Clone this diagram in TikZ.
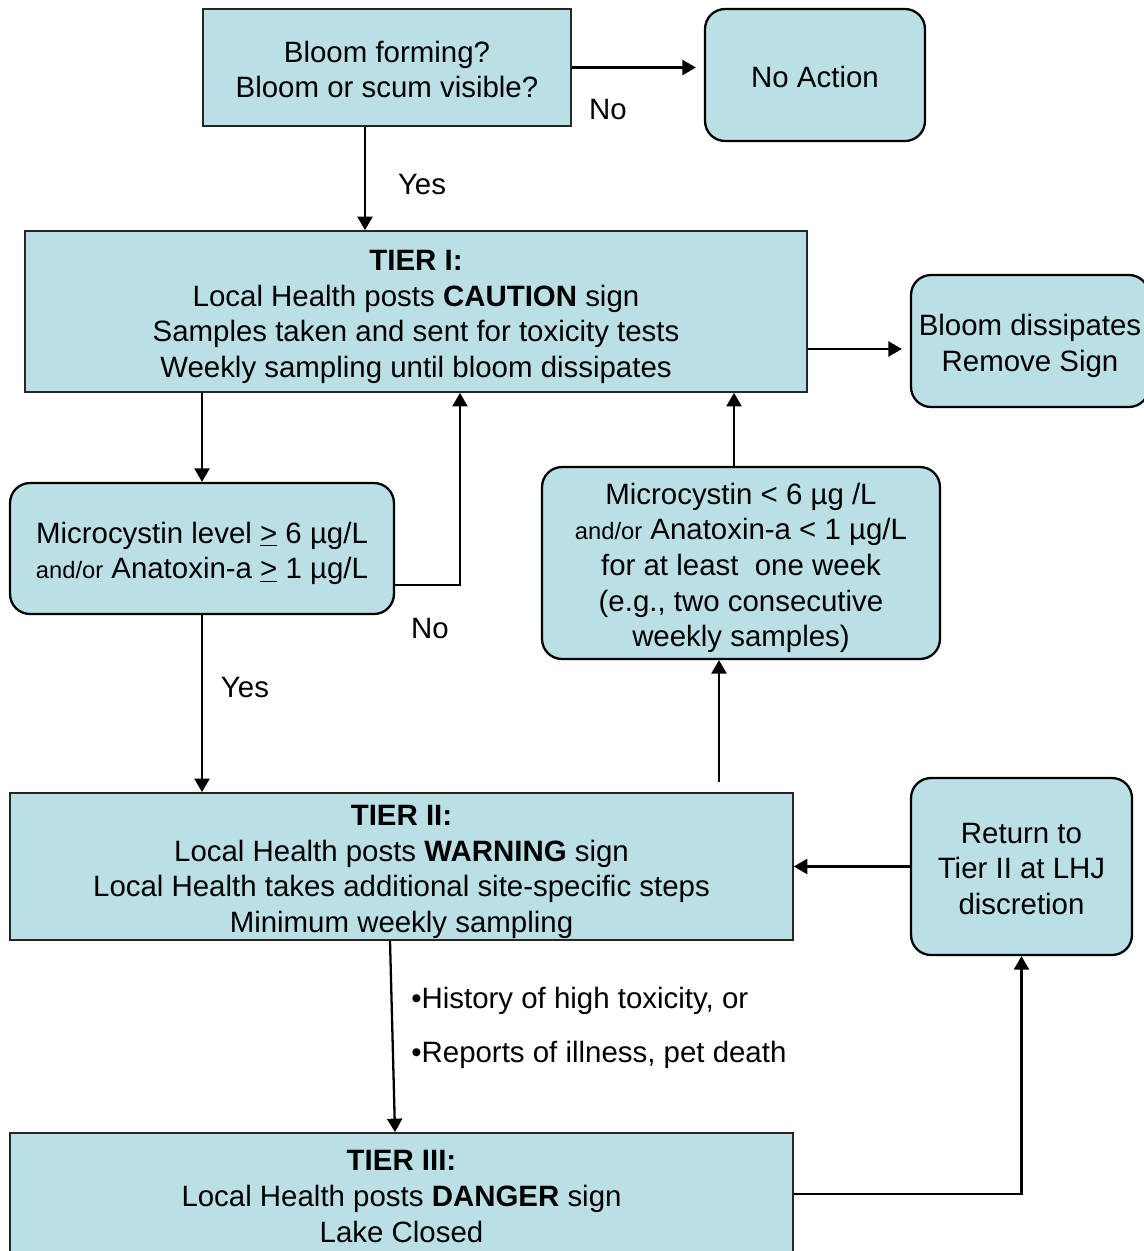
\documentclass[tikz,border=0pt]{standalone}
\usepackage{fontspec}
\setmainfont{Liberation Sans}
\usepackage{tikz}
\usetikzlibrary{shapes,arrows.meta}
\definecolor{boxblue}{RGB}{186,223,228}
\newcommand{\andorsize}{\fontsize{13.5}{16}\selectfont}
% struts so that lines sit as in the slide
\newcommand{\bx}[1]{\rule{0pt}{1.05em}#1\rule[-0.212em]{0pt}{0pt}}

\begin{document}
\begin{tikzpicture}[x=0.02cm,y=-0.02cm]
    \tikzstyle{every node}=[font=\fontsize{16.75}{20.3}\selectfont,align=center,inner sep=0pt]
    \tikzstyle{sqbox}=[rectangle,draw=black!85,line width=1pt,fill=boxblue]
    \tikzstyle{rndbox}=[rectangle,rounded corners=0.4cm,draw=black,line width=1.3pt,fill=boxblue]
    \tikzstyle{arr}=[line width=1.3pt,-{Triangle[length=0.27cm,width=0.3cm]}]
    \useasboundingbox (0,0) rectangle (1143,1251);
    \node[sqbox,minimum width=7.36cm,minimum height=2.34cm] (bloom) at (387,67.5)
      {\bx{Bloom forming?\\Bloom or scum visible?}};
    \node[rndbox,minimum width=4.4cm,minimum height=2.64cm] (noact) at (815,75)
      {\bx{No Action}};
    \node[sqbox,minimum width=15.64cm,minimum height=3.22cm] (tier1) at (416,311.5)
      {\bx{\textbf{TIER I:}\\Local Health posts \textbf{CAUTION} sign\\
       Samples taken and sent for toxicity tests\\Weekly sampling until bloom dissipates}};
    \node[rndbox,minimum width=4.76cm,minimum height=2.64cm] (gone) at (1030,341)
      {\bx{Bloom dissipates\\Remove Sign}};
    \node[rndbox,minimum width=7.68cm,minimum height=2.62cm] (high) at (202,548.5)
      {\bx{Microcystin level \underline{>} 6 µg/L\\{\andorsize and/or} Anatoxin-a \underline{>} 1 µg/L}};
    \node[rndbox,minimum width=7.96cm,minimum height=3.84cm] (low) at (741,563)
      {\bx{Microcystin < 6 µg /L\\{\andorsize and/or} Anatoxin-a < 1 µg/L\\for at least\ \ one week\\
       (e.g., two consecutive\\weekly samples)}};
    \node[sqbox,minimum width=15.66cm,minimum height=2.94cm] (tier2) at (401.5,866.5)
      {\bx{\textbf{TIER II:}\\Local Health posts \textbf{WARNING} sign\\
       Local Health takes additional site-specific steps\\Minimum weekly sampling}};
    \node[rndbox,minimum width=4.42cm,minimum height=3.54cm] (back) at (1021.5,866.5)
      {\bx{Return to\\Tier II at LHJ\\discretion}};
    \node[sqbox,minimum width=15.66cm,minimum height=2.44cm] (tier3) at (401.5,1194)
      {\bx{\textbf{TIER III:}\\Local Health posts \textbf{DANGER} sign\\Lake Closed}};
    % labels
    \node (no1) at (608,110) {No};
    \node (yes1) at (422,185) {Yes};
    \node (no2) at (430,629) {No};
    \node (yes2) at (245,688) {Yes};
    \node[anchor=west,align=left,font=\fontsize{16.75}{30.6}\selectfont] (crit) at (411,1028)
      {•History of high toxicity, or\\•Reports of illness, pet death};
    % connectors
    \draw[arr,shorten >=0.16cm] (bloom.east) -- (bloom.east -| noact.west);
    \draw[arr] ([xshift=-0.44cm]bloom.south) -- ([xshift=-0.44cm]bloom.south |- tier1.north);
    \draw[arr] (tier1.south -| high.north) -- (high.north);
    \draw[arr] ([yshift=-0.73cm]high.east) -| ([xshift=0.88cm]tier1.south);
    \draw[arr] (high.south) -- (high.south |- tier2.north);
    \draw[arr,shorten >=0.16cm] ([yshift=-0.75cm]tier1.east) -- ([yshift=-0.75cm]tier1.east -| gone.west);
    \draw[arr] ([xshift=-0.14cm]low.north) -- ([xshift=-0.14cm]low.north |- tier1.south);
    \draw[arr,shorten <=0.2cm] ([xshift=-0.44cm]low.south |- tier2.north) -- ([xshift=-0.44cm]low.south);
    \draw[arr] (back.west) -- (back.west -| tier2.east);
    \draw[arr] ([xshift=-0.23cm]tier2.south) -- ([xshift=-0.13cm]tier3.north);
    \draw[arr] (tier3.east) -| (back.south);
\end{tikzpicture}
\end{document}
